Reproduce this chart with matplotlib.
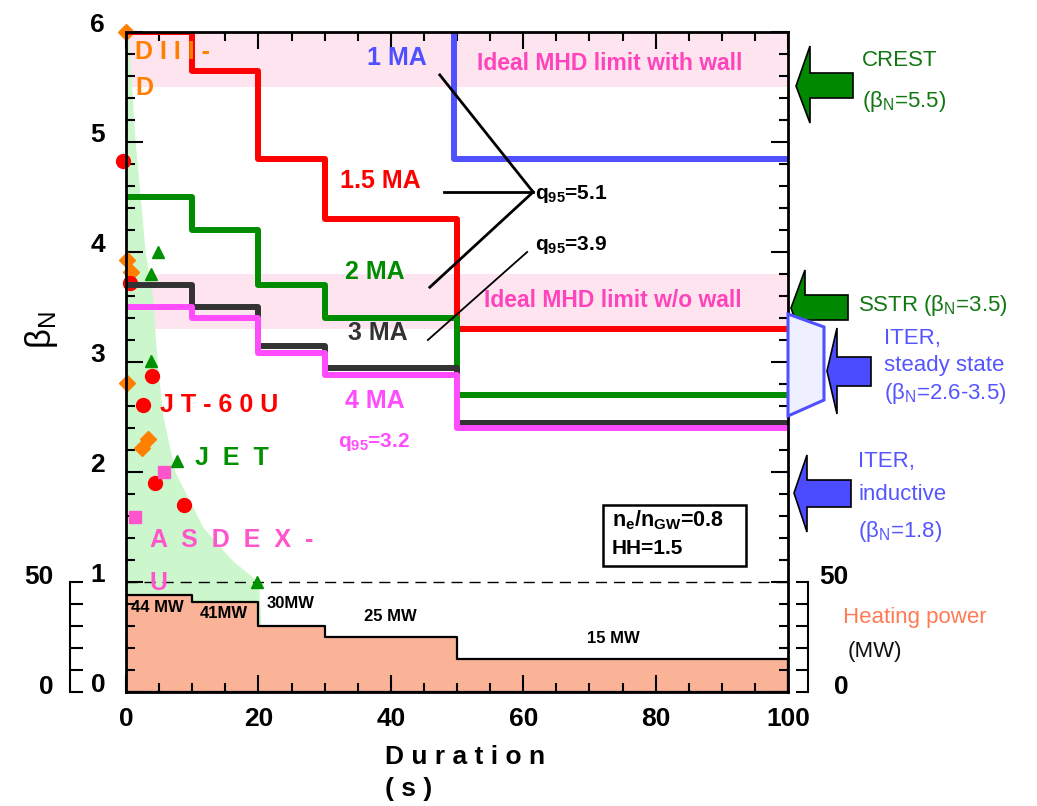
import numpy as np
import matplotlib
matplotlib.use("Agg")
import matplotlib.pyplot as plt
from matplotlib.ticker import MultipleLocator, FixedLocator
from matplotlib.patches import Polygon, Rectangle
from matplotlib.transforms import ScaledTranslation

plt.rcParams['font.family'] = ['Liberation Sans', 'DejaVu Sans']
plt.rcParams['mathtext.default'] = 'regular'

W, H, DPI = 1037, 806, 100

# ---------------- data ----------------
step_edges = [0, 10, 20, 30, 50, 100]
beta_1p5MA = [6.0, 5.65, 4.85, 4.3, 3.3]
beta_2MA = [4.5, 4.2, 3.7, 3.4, 2.7]
beta_3MA = [3.7, 3.5, 3.15, 2.95, 2.45]
beta_4MA = [3.5, 3.4, 3.08, 2.88, 2.4]
beta_1MA_x = [49.5, 49.5, 100]
beta_1MA_y = [6.3, 4.85, 4.85]

heating_edges = [0, 10, 20, 30, 50, 100]
heating_MW = [44, 41, 30, 25, 15]
heating_labels = ['44 MW', '41MW', '30MW', '25 MW', '15 MW']
heating_label_x = [4.8, 14.7, 24.8, 39.9, 73.6]
heating_label_y = [0.77, 0.71, 0.80, 0.69, 0.49]

diiid_x = [0.0, 0.2, 0.8, 0.1, 2.4, 3.3]
diiid_y = [6.0, 3.93, 3.82, 2.81, 2.22, 2.3]
jt60u_x = [-0.4, 0.6, 3.9, 2.5, 4.4, 8.7]
jt60u_y = [4.83, 3.72, 2.87, 2.61, 1.9, 1.7]
jet_x = [4.8, 3.8, 3.8, 7.7, 19.8]
jet_y = [4.0, 3.8, 3.01, 2.1, 1.0]
asdex_x = [1.4, 5.7]
asdex_y = [1.59, 2.0]

envelope_beta = [6.0, 5.0, 4.0, 3.6, 3.0, 2.5, 2.0, 1.5, 1.2, 1.0, 0.0]
envelope_x = [0.3, 1.4, 2.9, 4.0, 4.7, 5.6, 7.4, 11.6, 16.0, 20.0, 21.0]

mhd_wall = (5.5, 6.0)
mhd_nowall = (3.3, 3.8)

q51_x = [[61.5, 47.4], [61.5, 48.0], [61.5, 45.9]]
q51_y = [[4.545, 5.61], [4.545, 4.545], [4.545, 3.68]]
q39_x = [60.6, 45.6]
q39_y = [4.0, 3.2]

# ---------------- figure ----------------
fig = plt.figure(figsize=(W / DPI, H / DPI), dpi=DPI)
ax = fig.add_axes([126 / W, 1 - 692 / H, 662 / W, 660 / H])
ax.set_xlim(0, 100)
ax.set_ylim(0, 6)

def px2fig(x, y):
    return (x / W, 1 - y / H)

# bands
ax.axhspan(*mhd_wall, color='#FDE4EF', zorder=0, lw=0)
ax.axhspan(*mhd_nowall, color='#FDE4EF', zorder=0, lw=0)
ax.fill_betweenx(envelope_beta, 0, envelope_x, color='#CCF7CC', lw=0, zorder=0.5)

# heating power
hp = np.append(heating_MW, heating_MW[-1]) / 50.0
ax.fill_between(heating_edges, hp, step='post', facecolor='#FBB397',
                edgecolor='black', lw=1.6, zorder=1)
for lab, lx, ly in zip(heating_labels, heating_label_x, heating_label_y):
    ax.text(lx, ly, lab, fontsize=12, fontweight='bold', ha='center', va='center', zorder=6)

ax.axhline(1.0, color='black', lw=1, ls=(0, (8, 5)), zorder=1.5)

# markers
mk = dict(linestyle='none', clip_on=False, zorder=2)
ax.plot(diiid_x, diiid_y, marker='D', color='#FF8000', ms=8, **mk)
ax.plot(jt60u_x, jt60u_y, marker='o', color='#FF0000', ms=10, **mk)
ax.plot(jet_x, jet_y, marker='^', color='#009000', ms=9, **mk)
ax.plot(asdex_x, asdex_y, marker='s', color='#FF55CC', ms=8, **mk)

# current lines
lw = 4.3
ls = dict(lw=lw, solid_joinstyle='round', solid_capstyle='butt', zorder=3)
for vals, col in [(beta_1p5MA, '#FF0000'), (beta_2MA, '#008C00'),
                  (beta_3MA, '#333333'), (beta_4MA, '#FF4CFF')]:
    ax.step(step_edges, np.append(vals, vals[-1]), where='post', color=col, **ls)
ax.plot(beta_1MA_x, beta_1MA_y, color='#5050FF', **ls)

# q95 annotation lines
for xs, ys in zip(q51_x, q51_y):
    ax.plot(xs, ys, color='black', lw=2, zorder=4)
ax.plot(q39_x, q39_y, color='black', lw=1.3, zorder=4)

# texts
tb = dict(fontweight='bold', va='center', ha='left', zorder=6)
ax.text(1.4, 5.82, 'D I I I -', color='#FF8000', fontsize=18, **tb)
ax.text(1.4, 5.49, 'D', color='#FF8000', fontsize=18, **tb)
ax.text(5.1, 2.61, 'J T - 6 0 U', color='#FF0000', fontsize=18, **tb)
ax.text(10.4, 2.13, 'J  E  T', color='#009000', fontsize=18, **tb)
ax.text(3.6, 1.38, 'A  S  D  E  X  -', color='#FF55CC', fontsize=18, **tb)
ax.text(3.6, 0.99, 'U', color='#FF55CC', fontsize=18, **tb)

ax.text(36.4, 5.76, '1 MA', color='#5050FF', fontsize=18, **tb)
ax.text(32.3, 4.65, '1.5 MA', color='#FF0000', fontsize=18, **tb)
ax.text(33.1, 3.82, '2 MA', color='#008C00', fontsize=18, **tb)
ax.text(33.5, 3.26, '3 MA', color='#333333', fontsize=18, **tb)
ax.text(33.1, 2.65, '4 MA', color='#FF4CFF', fontsize=18, **tb)
ax.text(32.0, 2.27, 'q$_{95}$=3.2', color='#FF4CFF', fontsize=15, **tb)
ax.text(61.8, 4.53, 'q$_{95}$=5.1', color='black', fontsize=15, **tb)
ax.text(61.8, 4.06, 'q$_{95}$=3.9', color='black', fontsize=15, **tb)

ax.text(73, 5.71, 'Ideal MHD limit with wall', color='#FF44BB', fontsize=16.5,
        fontweight='bold', ha='center', va='center', zorder=6)
ax.text(73.5, 3.56, 'Ideal MHD limit w/o wall', color='#FF44BB', fontsize=16.5,
        fontweight='bold', ha='center', va='center', zorder=6)

# n_e/n_GW box
box_x0, box_x1 = (603 - 126) / 662, (746 - 126) / 662
box_y0, box_y1 = (692 - 566) / 660, (692 - 505) / 660
ax.add_patch(Rectangle((box_x0, box_y0), box_x1 - box_x0, box_y1 - box_y0,
                       transform=ax.transAxes, fc='white', ec='black', lw=1.8, zorder=5))
ax.text(73.4, 1.56, 'n$_e$/n$_{GW}$=0.8', fontsize=15.5, fontweight='bold',
        ha='left', va='center', zorder=6)
ax.text(73.4, 1.30, 'HH=1.5', fontsize=15, fontweight='bold',
        ha='left', va='center', zorder=6)

# axes styling
for s in ax.spines.values():
    s.set_linewidth(2)
    s.set_zorder(7)
ax.xaxis.set_major_locator(MultipleLocator(20))
ax.xaxis.set_minor_locator(MultipleLocator(5))
ax.yaxis.set_major_locator(MultipleLocator(1))
ax.yaxis.set_minor_locator(MultipleLocator(0.2))
ax.tick_params(which='both', direction='in', top=True, right=True, width=1.5)
ax.tick_params(which='major', length=12)
ax.tick_params(which='minor', length=6.5)
ax.tick_params(axis='x', labelsize=19, pad=11)
ax.tick_params(axis='y', labelsize=19, pad=15)
for t in ax.get_xticklabels() + ax.get_yticklabels():
    t.set_fontweight('bold')
off = ScaledTranslation(0, 0.1, fig.dpi_scale_trans)
for t in ax.get_yticklabels():
    t.set_transform(t.get_transform() + off)

# heating power side axes
axl = fig.add_axes([70 / W, 1 - 692 / H, 0.0001, 110 / H])
axr = fig.add_axes([795 / W, 1 - 692 / H, 13 / W, 110 / H])
for a, side in [(axl, 'left'), (axr, 'right')]:
    a.set_ylim(0, 50)
    a.set_xticks([])
    a.patch.set_visible(False)
    for k, s in a.spines.items():
        s.set_visible(k == side)
        s.set_linewidth(1.5)
    a.yaxis.set_major_locator(FixedLocator([0, 10, 20, 30, 40, 50]))
    a.yaxis.set_major_formatter(plt.FuncFormatter(lambda v, p: '%d' % v if v in (0, 50) else ''))
    a.tick_params(axis='y', direction='in', length=9, width=1.5, labelsize=19)
axl.yaxis.tick_left()
axl.tick_params(axis='y', pad=12)
axr.yaxis.tick_right()
axr.tick_params(axis='y', pad=29)
for t in axl.get_yticklabels() + axr.get_yticklabels():
    t.set_fontweight('bold')
    t.set_transform(t.get_transform() + ScaledTranslation(0, 0.08, fig.dpi_scale_trans))
for t in axr.get_yticklabels():
    t.set_horizontalalignment('right')

# labels
fig.text(*px2fig(385, 773), 'D u r a t i o n\n( s )', fontsize=19, fontweight='bold',
         ha='left', va='center', linespacing=1.4)
fig.text(*px2fig(42, 330), r'$\beta_N$', fontsize=25, rotation=90, ha='center', va='center')

fig.text(*px2fig(843, 618), 'Heating power', fontsize=16, color='#FF7A55', ha='left', va='center')
fig.text(*px2fig(848, 652), '(MW)', fontsize=16, color='#111111', ha='left', va='center')

# right side arrows
def arrow(tip_x, tip_y, hb, head_top, head_bot, st, sb, se, color):
    pts = [px2fig(tip_x, tip_y), px2fig(hb, head_top), px2fig(hb, st), px2fig(se, st),
           px2fig(se, sb), px2fig(hb, sb), px2fig(hb, head_bot)]
    fig.patches.append(Polygon(pts, closed=True, transform=fig.transFigure,
                               facecolor=color, edgecolor='black', lw=1.2, zorder=3))

arrow(796, 86, 810, 46, 123, 73, 98, 853, '#008800')
arrow(791, 308, 805, 270, 346, 295, 320, 848, '#008800')
fig.patches.append(Polygon([px2fig(788, 314), px2fig(824, 327), px2fig(824, 400), px2fig(788, 416)],
                           closed=True, transform=fig.transFigure, facecolor='#EEF0FF',
                           edgecolor='#5050FF', lw=2.2, zorder=4))
arrow(827, 371, 837, 328, 414, 357, 386, 871, '#4B4BFF')
arrow(794, 493, 807, 455, 532, 480, 507, 851, '#4B4BFF')

rt = dict(fontsize=16, ha='left', va='center')
fig.text(*px2fig(862, 61), 'CREST', color='#117711', **rt)
fig.text(*px2fig(862, 102), r'($\beta_N$=5.5)', color='#117711', **rt)
fig.text(*px2fig(858, 305), r'SSTR ($\beta_N$=3.5)', color='#117711', **rt)
fig.text(*px2fig(884, 339), 'ITER,', color='#5555FF', **rt)
fig.text(*px2fig(884, 366), 'steady state', color='#5555FF', **rt)
fig.text(*px2fig(884, 393), r'($\beta_N$=2.6-3.5)', color='#5555FF', **rt)
fig.text(*px2fig(858, 462), 'ITER,', color='#5555FF', **rt)
fig.text(*px2fig(858, 494), 'inductive', color='#5555FF', **rt)
fig.text(*px2fig(858, 532), r'($\beta_N$=1.8)', color='#5555FF', **rt)

fig.savefig('out.png', dpi=DPI)
